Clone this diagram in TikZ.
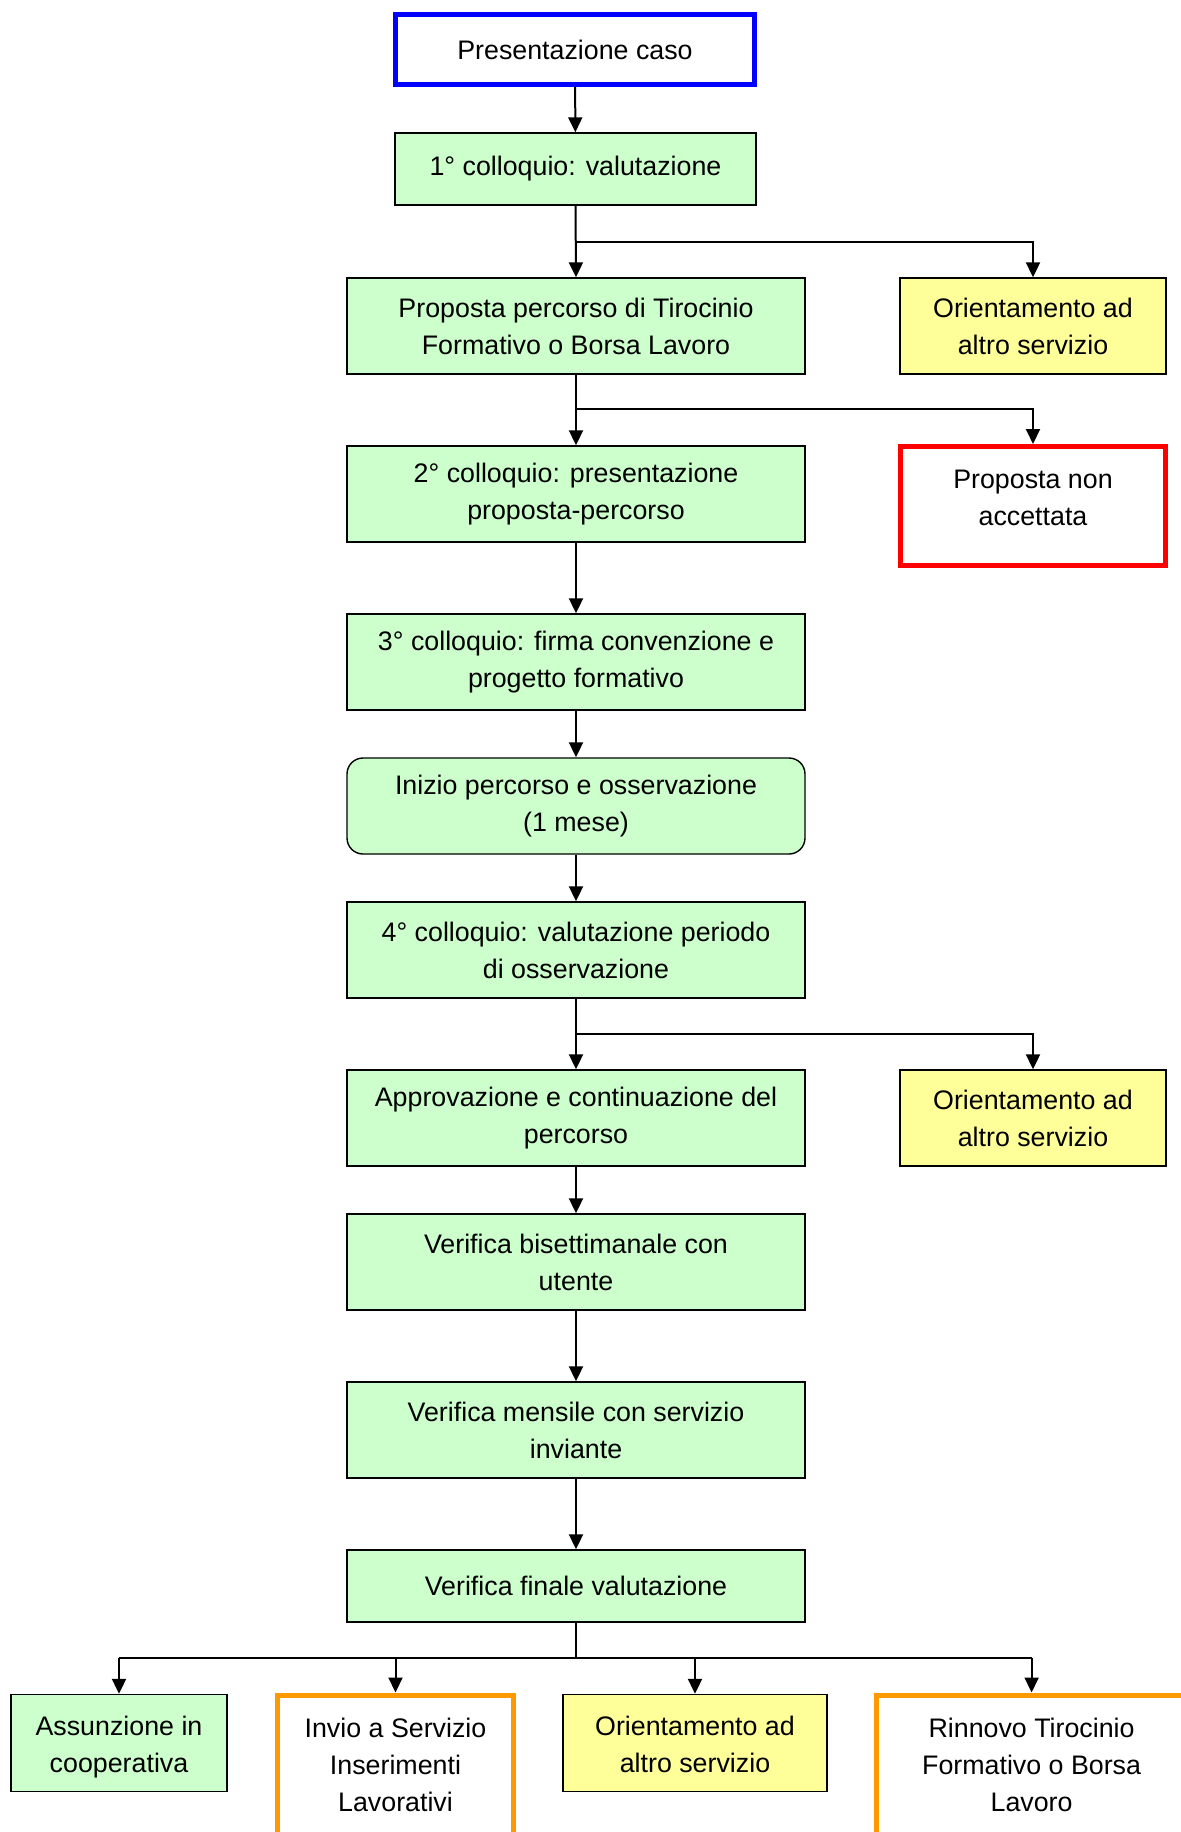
\documentclass[tikz,border=0pt]{standalone}
\usepackage{fontspec}
\setmainfont{Liberation Sans}
\usetikzlibrary{arrows.meta}
\definecolor{gfill}{HTML}{CCFFCC}
\definecolor{yfill}{HTML}{FFFF99}
\definecolor{bblue}{HTML}{0000FF}
\definecolor{rred}{HTML}{FF0000}
\definecolor{oorange}{HTML}{FF9900}
\newcommand{\shiftedtext}[2]{\raisebox{#1}[\height][\depth]{\begin{tabular}{@{}c@{}}#2\end{tabular}}}
\tikzset{
  box/.style={draw=black, line width=0.7pt, align=center, inner sep=1pt,
    font=\fontsize{13.4}{18.5}\selectfont, minimum width=229pt, minimum height=48pt},
  gbox/.style={box, fill=gfill},
  ybox/.style={box, fill=yfill, minimum width=133pt},
  conn/.style={line width=1pt, -{Triangle[length=7.5pt,width=7pt]}},
  plain/.style={line width=1pt},
}
\begin{document}
\begin{tikzpicture}[x=0.5pt,y=-0.5pt]
\useasboundingbox (0,0) rectangle (1181,1832);
\clip (0,0) rectangle (1181,1832);
\fill[white] (0,0) rectangle (1181,1832);
% nodes
\node[box, draw=bblue, line width=2.5pt, fill=white, minimum width=179.5pt, minimum height=35pt] (pres) at (575,49.5) {Presentazione caso};
\node[gbox, minimum width=180.5pt, minimum height=36pt] (c1) at (575.5,169) {1° colloquio: valutazione};
\node[gbox] (prop) at (576,326) {Proposta percorso di Tirocinio\\Formativo o Borsa Lavoro};
\node[ybox] (or1) at (1033,326) {Orientamento ad\\altro servizio};
\node[gbox] (c2) at (576,494) {2° colloquio: presentazione\\proposta-percorso};
\node[box, draw=rred, line width=2.5pt, fill=white, minimum width=132.5pt, minimum height=59.5pt] (nonacc) at (1033,506) {\shiftedtext{3pt}{Proposta non\\accettata}};
\node[gbox] (c3) at (576,662) {3° colloquio: firma convenzione e\\progetto formativo};
\node[gbox, rounded corners=8pt] (ini) at (576,806) {Inizio percorso e osservazione\\(1 mese)};
\node[gbox] (c4) at (576,950) {4° colloquio: valutazione periodo\\di osservazione};
\node[gbox] (appr) at (576,1118) {Approvazione e continuazione del\\percorso};
\node[ybox] (or2) at (1033,1118) {Orientamento ad\\altro servizio};
\node[gbox] (bis) at (576,1262) {Verifica bisettimanale con\\utente};
\node[gbox] (mens) at (576,1430) {Verifica mensile con servizio\\inviante};
\node[gbox, minimum height=36pt] (fin) at (576,1586) {Verifica finale valutazione};
\node[gbox, minimum width=108pt, minimum height=48.5pt] (as) at (119,1743) {\shiftedtext{-1.75pt}{Assunzione in\\cooperativa}};
\node[box, draw=oorange, line width=2.5pt, fill=white, minimum width=118pt, minimum height=70pt] (inv) at (395.5,1765) {Invio a Servizio\\Inserimenti\\Lavorativi};
\node[ybox, minimum width=132pt, minimum height=48.5pt] (or3) at (695,1743) {\shiftedtext{-1.75pt}{Orientamento ad\\altro servizio}};
\node[box, draw=oorange, line width=2.5pt, fill=white, minimum width=155pt, minimum height=70pt] (ri) at (1031.6,1765) {Rinnovo Tirocinio\\Formativo o Borsa\\Lavoro};
% branch points
\coordinate (b1) at (576,242);
\coordinate (b2) at (576,409);
\coordinate (b3) at (576,1034);
\coordinate (b4) at (576,1658);
% connectors
\draw[conn] (pres) -- (c1);
\draw[conn] (c1.south) -- (prop.north);
\draw[conn] (b1) -| (or1.north);
\draw[conn] (prop) -- (c2);
\draw[conn] (b2) -| (nonacc.north);
\draw[conn] (c2) -- (c3);
\draw[conn] (c3) -- (ini);
\draw[conn] (ini) -- (c4);
\draw[conn] (c4) -- (appr);
\draw[conn] (b3) -| (or2.north);
\draw[conn] (appr) -- (bis);
\draw[conn] (bis) -- (mens);
\draw[conn] (mens) -- (fin);
\draw[plain] (fin.south) -- (b4);
\draw[line width=1.3pt] (as.north |- b4) -- (ri.north |- b4);
\draw[conn] (as.north |- b4) -- (as.north);
\draw[conn] (inv.north |- b4) -- (inv.north);
\draw[conn] (or3.north |- b4) -- (or3.north);
\draw[conn] (ri.north |- b4) -- (ri.north);
\end{tikzpicture}
\end{document}
